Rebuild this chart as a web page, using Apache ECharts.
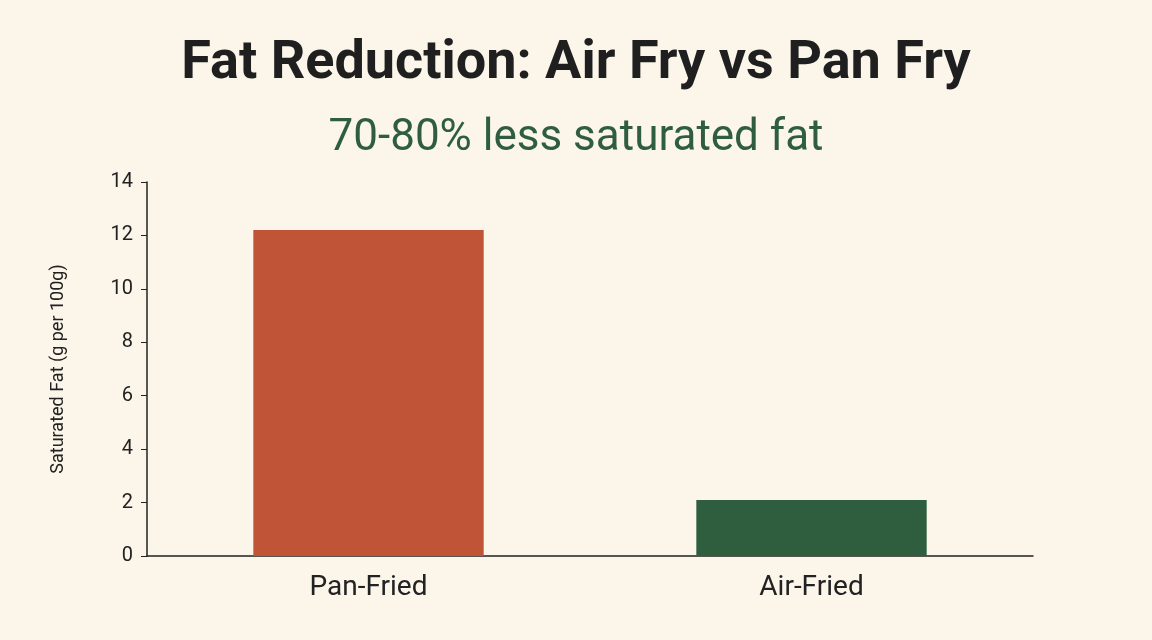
<!DOCTYPE html>
<html><head><meta charset="utf-8">
<script src="https://cdn.jsdelivr.net/npm/echarts@6/dist/echarts.min.js"></script>
<style>html,body{margin:0;background:#fbf5ea}#c{width:1152px;height:640px}</style>
</head><body><div id="c"></div>
<script>
const categories = ['Pan-Fried', 'Air-Fried'];
const values = [12.2, 2.1];
const colors = ['#bf5436', '#2f5e3e'];
const chart = echarts.init(document.getElementById('c'));
chart.setOption({
  backgroundColor: '#fbf5ea',
  title: [
    {text: 'Fat Reduction: Air Fry vs Pan Fry', left: 'center', top: 32,
     textStyle: {fontFamily: 'Roboto', fontWeight: 'bold', fontSize: 54, color: '#1f1f1f'}},
    {text: '70-80% less saturated fat', left: 'center', top: 112,
     textStyle: {fontFamily: 'Roboto', fontWeight: 'normal', fontSize: 44, color: '#2f5e3e'}}
  ],
  grid: {left: 147, right: 119, top: 182, bottom: 84},
  xAxis: {type: 'category', data: categories,
    axisLine: {lineStyle: {color: '#222', width: 1.5}}, axisTick: {show: false},
    axisLabel: {fontSize: 28, color: '#222', margin: 18, fontFamily: 'Roboto'}},
  yAxis: {type: 'value', min: 0, max: 14, interval: 2,
    name: 'Saturated Fat (g per 100g)', nameLocation: 'middle', nameGap: 80,
    nameTextStyle: {fontSize: 18, color: '#222', fontFamily: 'Roboto'},
    axisLine: {show: true, lineStyle: {color: '#222', width: 1.5}},
    axisTick: {show: true, length: 6, lineStyle: {color: '#222'}},
    splitLine: {show: false},
    axisLabel: {fontSize: 20, color: '#222', margin: 14, fontFamily: 'Roboto'}},
  series: [{type: 'bar', barWidth: '52%',
    data: values.map((v, i) => ({value: v, itemStyle: {color: colors[i]}}))}]
});
</script></body></html>
